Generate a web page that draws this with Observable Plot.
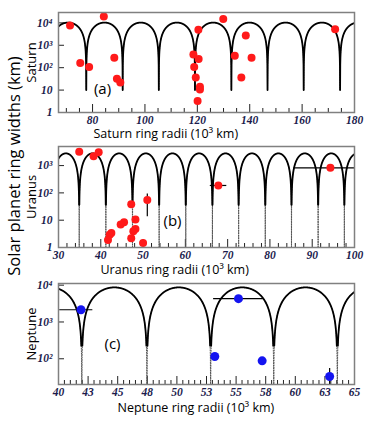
<!DOCTYPE html>
<html><head><meta charset="utf-8">
<script src="https://cdn.jsdelivr.net/npm/d3@7"></script>
<script src="https://cdn.jsdelivr.net/npm/@observablehq/plot@0.6"></script>
<style>
body{margin:0;background:#fff;}
#wrap{position:relative;width:383px;height:425px;overflow:hidden;background:#fff}
#ylab{position:absolute;left:13px;top:166px;transform:translate(-50%,-50%) rotate(-90deg);white-space:nowrap;font-family:"Open Sans";font-size:16.5px;color:#000;z-index:5}
svg{display:block}
</style></head><body><div id="wrap"><div id="ylab">Solar planet ring widths (km)</div></div>
<script>
// ---- Saturn (a) ----
const saturnRadii  = [71.4, 84.3, 75.3, 78.7, 88.3, 89.3, 90.6, 129.9, 120.4, 118.5, 120.5, 118.8, 119.4, 121.0, 121.0, 120.1, 138.5, 134.3, 140.7, 136.8, 172.6];
const saturnWidths = [7600, 19000, 160, 107, 280, 32, 22, 15000, 4900, 390, 245, 107, 36, 14, 10.5, 3.3, 2750, 340, 280, 36, 5200];
const saturnNodes = [63.75, 77.6, 91.5, 105.3, 119.1, 133.0, 146.8, 160.6, 174.5, 188.35];
const saturnPeak = 10300, saturnFloor = 10, saturnSolidMin = 10;
const saturnXTicks = [80, 100, 120, 140, 160, 180];
const saturnXMinor = [70, 75, 85, 90, 95, 105, 110, 115, 125, 130, 135, 145, 150, 155, 165, 170, 175];
const saturnYTicks = [1, 10, 100, 1000, 10000];

// ---- Uranus (b) ----
const uranusRadii  = [34.9, 38.3, 39.5, 47.2, 51.0, 48.2, 45.5, 44.7, 48.2, 47.7, 42.5, 42.1, 41.7, 47.2, 50.0, 67.8, 94.3];
const uranusWidths = [3200, 2200, 3100, 38, 55, 10.5, 8.4, 7.0, 4.8, 3.9, 3.4, 2.9, 1.9, 2.2, 1.45, 187, 830];
const uranusXErrLo = [null, null, null, null, null, null, null, null, null, null, null, null, null, null, null, 65.9, 85.8];
const uranusXErrHi = [null, null, null, null, null, null, null, null, null, null, null, null, null, null, null, 69.8, 103];
const uranusYErrLo = [null, null, null, null, 13.5, null, null, null, null, null, null, null, null, null, null, null, null];
const uranusYErrHi = [null, null, null, null, 91, null, null, null, null, null, null, null, null, null, null, null, null];
const uranusNodes = [28.6, 34.9, 41.2, 47.5, 53.8, 60.1, 66.4, 72.6, 78.9, 85.1, 91.4, 97.6, 103.9];
const uranusPeak = 2800, uranusFloor = 0.5, uranusSolidMin = 8;
const uranusXTicks = [30, 40, 50, 60, 70, 80, 90, 100];
const uranusXMinor = [32, 34, 36, 38, 42, 44, 46, 48, 52, 54, 56, 58, 62, 64, 66, 68, 72, 74, 76, 78, 82, 84, 86, 88, 92, 94, 96, 98];
const uranusYTicks = [1, 10, 100, 1000];

// ---- Neptune (c) ----
const neptuneRadii  = [41.9, 55.2, 53.2, 57.2, 62.9];
const neptuneWidths = [2150, 4300, 115, 88, 33];
const neptuneXErrLo = [40.1, 53.1, null, 56.9, null];
const neptuneXErrHi = [42.9, 57.3, null, 57.5, null];
const neptuneYErrLo = [null, null, null, null, 15];
const neptuneYErrHi = [null, null, null, null, 54];
const neptuneNodes = [36.6, 41.97, 47.47, 52.85, 58.18, 63.55, 68.9];
const neptunePeak = 8700, neptuneFloor = 10, neptuneSolidMin = 120;
const neptuneXTicks = [40, 42.5, 45, 47.5, 50, 52.5, 55, 57.5, 60, 62.5, 65];
const neptuneXMinor = [40.5, 41, 41.5, 42, 43, 43.5, 44, 44.5, 45.5, 46, 46.5, 47, 48, 48.5, 49, 49.5, 50.5, 51, 51.5, 52, 53, 53.5, 54, 54.5, 55.5, 56, 56.5, 57, 58, 58.5, 59, 59.5, 60.5, 61, 61.5, 62, 63, 63.5, 64, 64.5];
const neptuneYTicks = [100, 1000, 10000];

// model arches between node radii (|sin| between consecutive nodes)
function arches(nodes, peak, floor, n = 240) {
  const out = [];
  for (let i = 0; i < nodes.length - 1; i++) {
    const a = nodes[i], b = nodes[i + 1];
    for (let k = 0; k <= n; k++) {
      const t = k / n;
      out.push({r: a + (b - a) * t, w: Math.max(floor, peak * Math.sin(Math.PI * t))});
    }
  }
  return out;
}
const sup = {2: "²", 3: "³", 4: "⁴"};
const fmt = d => d === 1 ? "1" : d === 10 ? "10" : "10" + sup[Math.round(Math.log10(d))];

function panel(o) {
  const boxH = o.height - o.mt - o.mb, boxW = 383 - 58 - 29;
  const pts = o.radii.map((r, i) => ({r, w: o.widths[i],
    xl: o.xlo ? o.xlo[i] : null, xh: o.xhi ? o.xhi[i] : null,
    yl: o.ylo ? o.ylo[i] : null, yh: o.yhi ? o.yhi[i] : null}));
  const xe = pts.filter(d => d.xl != null), ye = pts.filter(d => d.yl != null);
  const curve = arches(o.nodes, o.peak, o.floor);
  const lab = {fontFamily: "Open Sans", fontStyle: "normal", fontWeight: "normal", fill: "black"};
  return Plot.plot({
    width: 383, height: o.height,
    marginLeft: 58, marginRight: 29, marginTop: o.mt, marginBottom: o.mb,
    x: {domain: o.xDomain},
    y: {type: "log", domain: o.yDomain},
    style: {fontFamily: "Liberation Serif", fontSize: "11.5px", fontStyle: "italic", fontWeight: "bold", color: "#1b1b4d", background: "transparent", overflow: "visible"},
    marks: [
      Plot.tickX(o.xMinor, {x: d => d, insetTop: boxH - 4, stroke: "#222"}),
      Plot.tickX(o.xTicks, {x: d => d, insetTop: boxH - 8, stroke: "#222"}),
      Plot.tickY(o.yTicks, {y: d => d, insetRight: boxW - 6, stroke: "#222"}),
      Plot.line(curve, {x: "r", y: "w", stroke: "#555", strokeWidth: 1, strokeDasharray: "1,1.5", clip: true}),
      Plot.line(curve, {x: "r", y: d => d.w >= o.solidMin ? d.w : NaN, stroke: "black", strokeWidth: 1.8, clip: true}),
      Plot.ruleY(xe, {y: "w", x1: "xl", x2: "xh", stroke: "black", strokeWidth: 1.2, clip: true}),
      Plot.ruleX(ye, {x: "r", y1: "yl", y2: "yh", stroke: "black", strokeWidth: 1.2, clip: true}),
      Plot.dot(pts, {x: "r", y: "w", r: o.r, fill: o.color, stroke: null}),
      Plot.axisX(o.xTicks, {tickSize: 0, tickPadding: 3, label: null}),
      Plot.axisY(o.yTicks, {tickSize: 0, tickPadding: 6, tickFormat: fmt, label: null}),
      Plot.frame({stroke: "#808080", strokeWidth: 1.5}),
      Plot.text([o.label], {text: d => d, frameAnchor: "left", dx: -27, rotate: -90, textAnchor: "middle", lineAnchor: "middle", fontSize: 13, ...lab}),
      Plot.text([o.tag], {text: d => d, frameAnchor: "top-left", dx: o.tagDx, dy: o.tagDy, textAnchor: "middle", lineAnchor: "middle", fontSize: 15, ...lab}),
      Plot.text([o.title], {text: d => d, frameAnchor: "bottom-left", dx: o.titleDx, dy: o.titleDy, textAnchor: "start", lineAnchor: "middle", fontSize: 12.5, ...lab})
    ]
  });
}

const wrap = document.getElementById("wrap");
wrap.append(panel({
  height: 140, mt: 12, mb: 28, xDomain: [67, 180], yDomain: [1, 29000],
  radii: saturnRadii, widths: saturnWidths, color: "#ff1a1a", r: 4,
  nodes: saturnNodes, peak: saturnPeak, floor: saturnFloor, solidMin: saturnSolidMin,
  xTicks: saturnXTicks, xMinor: saturnXMinor, yTicks: saturnYTicks,
  label: "Saturn", tag: "(a)", tagDx: 44, tagDy: 77,
  title: "Saturn ring radii (10³ km)", titleDx: 35, titleDy: 21
}));
wrap.append(panel({
  height: 140, mt: 6, mb: 33, xDomain: [30, 100], yDomain: [1, 5000],
  radii: uranusRadii, widths: uranusWidths, color: "#ff1a1a", r: 4,
  xlo: uranusXErrLo, xhi: uranusXErrHi, ylo: uranusYErrLo, yhi: uranusYErrHi,
  nodes: uranusNodes, peak: uranusPeak, floor: uranusFloor, solidMin: uranusSolidMin,
  xTicks: uranusXTicks, xMinor: uranusXMinor, yTicks: uranusYTicks,
  label: "Uranus", tag: "(b)", tagDx: 114, tagDy: 75,
  title: "Uranus ring radii (10³ km)", titleDx: 42, titleDy: 22
}));
wrap.append(panel({
  height: 145, mt: 3, mb: 41, xDomain: [40, 65], yDomain: [20, 11100],
  radii: neptuneRadii, widths: neptuneWidths, color: "#1414f0", r: 4.5,
  xlo: neptuneXErrLo, xhi: neptuneXErrHi, ylo: neptuneYErrLo, yhi: neptuneYErrHi,
  nodes: neptuneNodes, peak: neptunePeak, floor: neptuneFloor, solidMin: neptuneSolidMin,
  xTicks: neptuneXTicks, xMinor: neptuneXMinor, yTicks: neptuneYTicks,
  label: "Neptune", tag: "(c)", tagDx: 54, tagDy: 61,
  title: "Neptune ring radii (10³ km)", titleDx: 59, titleDy: 23
}));
</script></body></html>
